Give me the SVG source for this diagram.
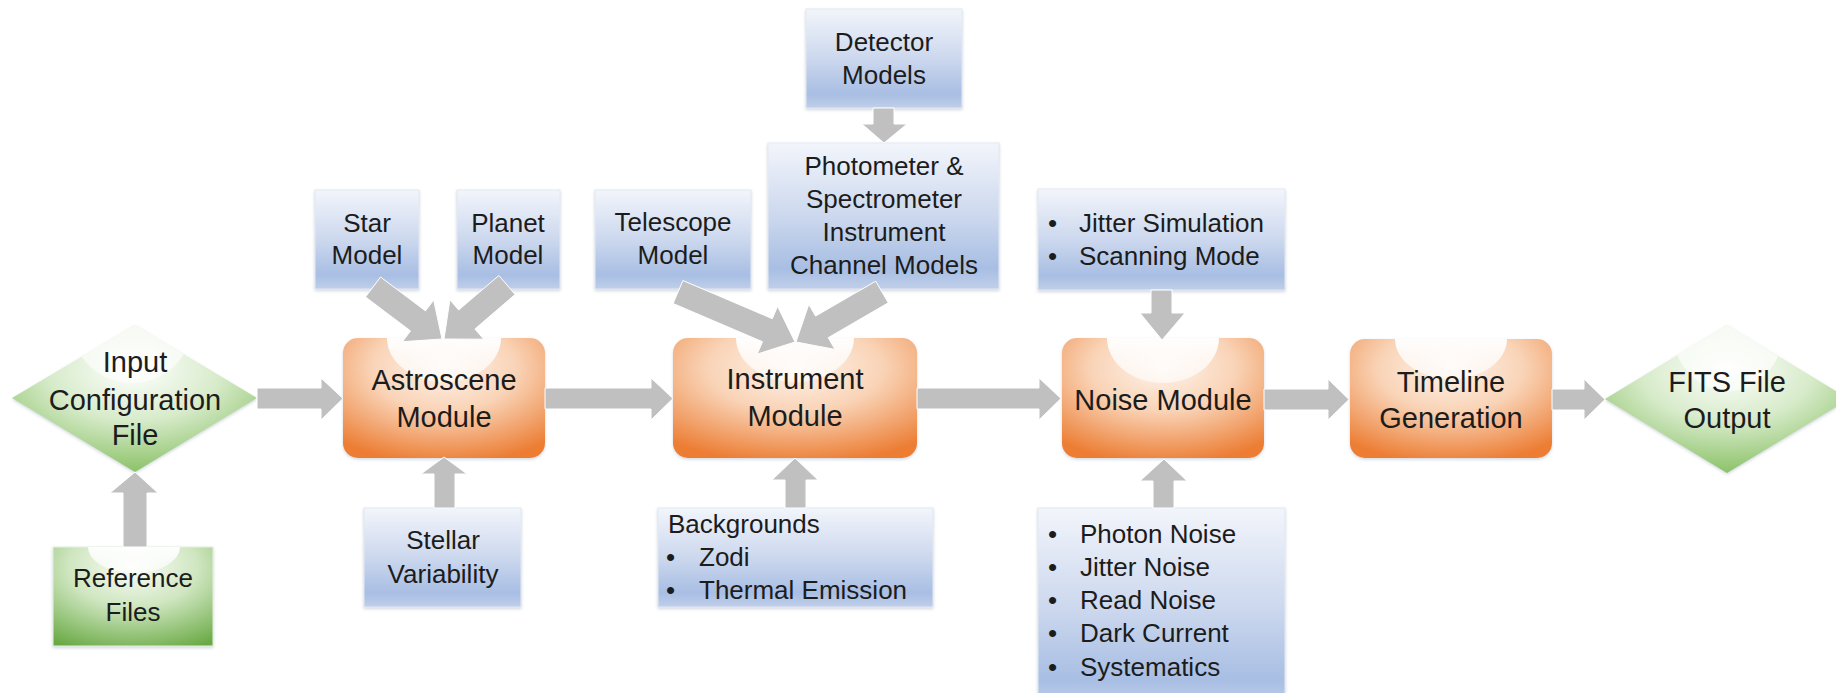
<svg xmlns="http://www.w3.org/2000/svg" width="1836" height="693" viewBox="0 0 1836 693">
<style>
.t{font-family:"Liberation Sans",Arial,sans-serif;fill:#1c1c1c;text-anchor:middle;dominant-baseline:central}
.big{font-size:29px}
.sm{font-size:26px}
.l{text-anchor:start}
.arr{fill:#c0c0c0;stroke:#ffffff;stroke-width:1}
.blue{fill:url(#gBlue);stroke:#e4e9f2;stroke-width:1;filter:url(#sh)}
.orange{fill:url(#gOrange);filter:url(#sh)}
.green{fill:url(#gGreen);stroke:#e6efe0;stroke-width:1;filter:url(#sh)}
.dia{fill:url(#gDia);filter:url(#sh)}
.hl{fill:url(#gHl)}
</style>
<defs>
<filter id="sh" x="-10%" y="-10%" width="120%" height="125%">
<feDropShadow dx="0" dy="1.5" stdDeviation="1.6" flood-color="#9aa6b8" flood-opacity="0.45"/>
</filter>
<linearGradient id="gBlue" x1="0" y1="0" x2="0" y2="1">
<stop offset="0" stop-color="#f2f5fb"/>
<stop offset="0.5" stop-color="#ccd8ee"/>
<stop offset="0.86" stop-color="#a8bee3"/>
<stop offset="1" stop-color="#c0cfea"/>
</linearGradient>
<radialGradient id="gOrange" cx="0.5" cy="0.25" r="0.8">
<stop offset="0" stop-color="#fef4ec"/>
<stop offset="0.45" stop-color="#f9d3b6"/>
<stop offset="1" stop-color="#ec7d33"/>
</radialGradient>
<radialGradient id="gGreen" cx="0.5" cy="0.2" r="0.9">
<stop offset="0" stop-color="#fbfdf9"/>
<stop offset="0.45" stop-color="#cfe6c0"/>
<stop offset="1" stop-color="#6aaa45"/>
</radialGradient>
<radialGradient id="gDia" cx="0.5" cy="0.3" r="0.7">
<stop offset="0" stop-color="#ffffff"/>
<stop offset="0.5" stop-color="#d7ebca"/>
<stop offset="1" stop-color="#8cc268"/>
</radialGradient>
<linearGradient id="gHl" x1="0" y1="0" x2="0" y2="1">
<stop offset="0" stop-color="#ffffff" stop-opacity="0.97"/>
<stop offset="1" stop-color="#ffffff" stop-opacity="0.55"/>
</linearGradient>
<clipPath id="cIn"><polygon points="12,398 135,325 257,398 135,472"/></clipPath>
<clipPath id="cOut"><polygon points="1605,399 1727,325 1849,399 1727,473"/></clipPath>
</defs>
<rect width="1836" height="693" fill="#ffffff"/>

<g id="input-config">
<polygon class="dia" points="12,398 135,325 257,398 135,472"/>
<ellipse class="hl" cx="132" cy="325" rx="60" ry="58" clip-path="url(#cIn)"/>
<text class="t big" x="135" y="362">Input</text>
<text class="t big" x="135" y="400">Configuration</text>
<text class="t big" x="135" y="435">File</text>
</g>

<g id="reference-files">
<rect class="green" x="53" y="547" width="160" height="99"/>
<path class="hl" d="M88,547 A46 26 0 0 0 180,547 Z"/>
<text class="t sm" x="133" y="578">Reference</text>
<text class="t sm" x="133" y="612">Files</text>
</g>

<g id="astroscene">
<rect class="orange" x="343" y="338" width="202" height="120" rx="15"/>
<path class="hl" d="M387,338 A57 44 0 0 0 501,338 Z"/>
<text class="t big" x="444" y="380">Astroscene</text>
<text class="t big" x="444" y="417">Module</text>
</g>

<g id="star-model">
<rect class="blue" x="315" y="190" width="104" height="99"/>
<text class="t sm" x="367" y="223">Star</text>
<text class="t sm" x="367" y="255">Model</text>
</g>

<g id="planet-model">
<rect class="blue" x="457" y="190" width="103" height="99"/>
<text class="t sm" x="508" y="223">Planet</text>
<text class="t sm" x="508" y="255">Model</text>
</g>

<g id="stellar-variability">
<rect class="blue" x="364" y="508" width="157" height="99"/>
<text class="t sm" x="443" y="540">Stellar</text>
<text class="t sm" x="443" y="574">Variability</text>
</g>

<g id="instrument">
<rect class="orange" x="673" y="338" width="244" height="120" rx="15"/>
<path class="hl" d="M736,338 A59 44 0 0 0 854,338 Z"/>
<text class="t big" x="795" y="379">Instrument</text>
<text class="t big" x="795" y="416">Module</text>
</g>

<g id="telescope-model">
<rect class="blue" x="595" y="190" width="156" height="99"/>
<text class="t sm" x="673" y="222">Telescope</text>
<text class="t sm" x="673" y="255">Model</text>
</g>

<g id="photometer">
<rect class="blue" x="768" y="143" width="231" height="146"/>
<text class="t sm" x="884" y="166">Photometer &amp;</text>
<text class="t sm" x="884" y="199">Spectrometer</text>
<text class="t sm" x="884" y="232">Instrument</text>
<text class="t sm" x="884" y="265">Channel Models</text>
</g>

<g id="detector-models">
<rect class="blue" x="806" y="9" width="156" height="99"/>
<text class="t sm" x="884" y="42">Detector</text>
<text class="t sm" x="884" y="75">Models</text>
</g>

<g id="backgrounds">
<rect class="blue" x="658" y="508" width="275" height="99"/>
<text class="t sm l" x="668" y="524">Backgrounds</text>
<text class="t sm l" x="666" y="557">•</text>
<text class="t sm l" x="699" y="557">Zodi</text>
<text class="t sm l" x="666" y="590">•</text>
<text class="t sm l" x="699" y="590">Thermal Emission</text>
</g>

<g id="noise">
<rect class="orange" x="1062" y="338" width="202" height="120" rx="15"/>
<path class="hl" d="M1107,338 A56 45 0 0 0 1219,338 Z"/>
<text class="t big" x="1163" y="400">Noise Module</text>
</g>

<g id="jitter">
<rect class="blue" x="1038" y="189" width="247" height="101"/>
<text class="t sm l" x="1048" y="223">•</text>
<text class="t sm l" x="1079" y="223">Jitter Simulation</text>
<text class="t sm l" x="1048" y="256">•</text>
<text class="t sm l" x="1079" y="256">Scanning Mode</text>
</g>

<g id="noise-sources">
<rect class="blue" x="1038" y="508" width="247" height="200"/>
<text class="t sm l" x="1048" y="534">•</text>
<text class="t sm l" x="1080" y="534">Photon Noise</text>
<text class="t sm l" x="1048" y="567">•</text>
<text class="t sm l" x="1080" y="567">Jitter Noise</text>
<text class="t sm l" x="1048" y="600">•</text>
<text class="t sm l" x="1080" y="600">Read Noise</text>
<text class="t sm l" x="1048" y="633">•</text>
<text class="t sm l" x="1080" y="633">Dark Current</text>
<text class="t sm l" x="1048" y="667">•</text>
<text class="t sm l" x="1080" y="667">Systematics</text>
</g>

<g id="timeline">
<rect class="orange" x="1350" y="339" width="202" height="119" rx="15"/>
<path class="hl" d="M1395,339 A56 40 0 0 0 1507,339 Z"/>
<text class="t big" x="1451" y="382">Timeline</text>
<text class="t big" x="1451" y="418">Generation</text>
</g>

<g id="fits-output">
<polygon class="dia" points="1605,399 1727,325 1849,399 1727,473"/>
<ellipse class="hl" cx="1728" cy="325" rx="57" ry="66" clip-path="url(#cOut)"/>
<text class="t big" x="1727" y="382">FITS File</text>
<text class="t big" x="1727" y="418">Output</text>
</g>

<g id="connectors">
<polygon class="arr" points="257,388 321,388 321,378 343,398.5 321,420 321,409 257,409"/>
<polygon class="arr" points="545,388 651,388 651,378 673,398.5 651,420 651,409 545,409"/>
<polygon class="arr" points="917,388 1039,388 1039,378 1061,398.5 1039,420 1039,409 917,409"/>
<polygon class="arr" points="1264,389 1328,389 1328,379 1349,399.5 1328,420 1328,410 1264,410"/>
<polygon class="arr" points="1552,389 1584,389 1584,379 1605,399.5 1584,420 1584,410 1552,410"/>
<polygon class="arr" points="123,547 123,493 110,493 135,472 158,493 147,493 147,547"/>
<polygon class="arr" points="434,508 434,474 421,474 444,457 467,474 455,474 455,508"/>
<polygon class="arr" points="785,508 785,480 772,480 795,458 818,480 806,480 806,508"/>
<polygon class="arr" points="1153,508 1153,481 1140,481 1164,459 1187,481 1174,481 1174,508"/>
<polygon class="arr" points="873,108 873,124 862,124 884,143 907,124 894,124 894,108"/>
<polygon class="arr" points="1151,290 1151,313 1140,313 1162,340 1185,313 1172,313 1172,290"/>
<polygon class="arr" points="365.5,297 410.5,330.9 402.4,341.7 442,339 433.7,300.1 425.5,310.9 380.5,277"/>
<polygon class="arr" points="498.9,275.5 458.7,310 449.9,299.8 444,339 483.7,339.2 474.9,329 515.1,294.5"/>
<polygon class="arr" points="673.1,303.5 762.5,341.7 757.2,354.1 795,342 777.6,306.3 772.3,318.7 682.9,280.5"/>
<polygon class="arr" points="875.7,281.2 815.6,316.1 808.8,304.4 796,342 835,349.4 828.2,337.7 888.3,302.8"/>
</g>
</svg>
